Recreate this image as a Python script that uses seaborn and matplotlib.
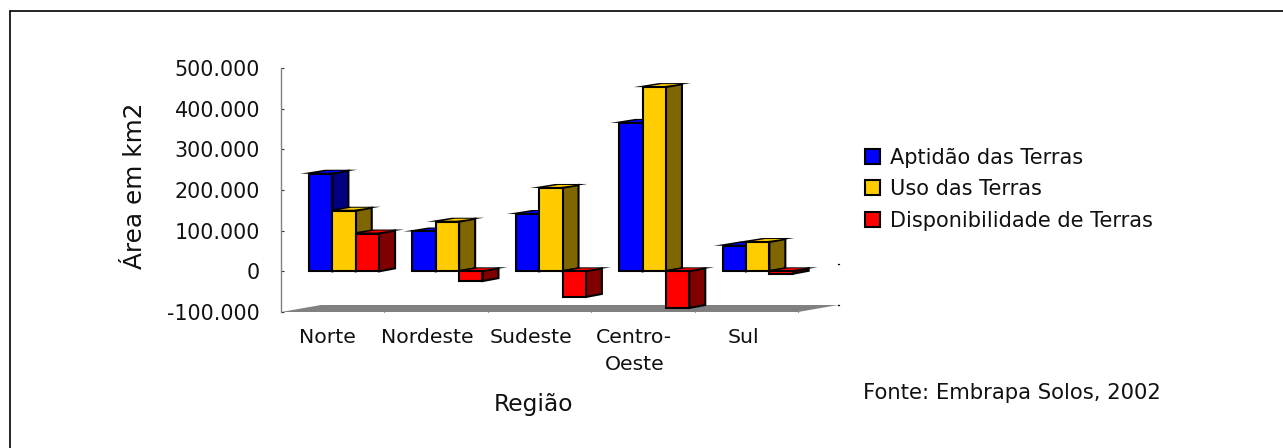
import numpy as np
import pandas as pd
import matplotlib
matplotlib.use('Agg')
import matplotlib.pyplot as plt
import seaborn as sns
from matplotlib.lines import Line2D
from matplotlib.patches import Patch, Polygon
from matplotlib.transforms import ScaledTranslation

regioes = ['Norte', 'Nordeste', 'Sudeste', 'Centro-\nOeste', 'Sul']
series = ['Aptidão das Terras', 'Uso das Terras', 'Disponibilidade de Terras']
aptidao = [240000, 98000, 141000, 365000, 63000]
uso = [149000, 122000, 205000, 453000, 72000]
disponibilidade = [93000, -24000, -63000, -90000, -6000]
y_ticks = [-100000, 0, 100000, 200000, 300000, 400000, 500000]
y_labels = ['-100.000', '0', '100.000', '200.000', '300.000', '400.000', '500.000']
cores = ['#0000ff', '#ffcc00', '#ff0000']
cores_lado = ['#000080', '#806600', '#800000']

W, H = 1283, 448
DX, DY = 16, 3  # profundidade 3D em px
XMIN, XMAX = -0.61, 4.39


def fx(px):
    return px / W


def fy(py):
    return 1 - py / H


df = pd.DataFrame({'regiao': regioes, series[0]: aptidao, series[1]: uso, series[2]: disponibilidade})
df = df.melt(id_vars='regiao', var_name='serie', value_name='area')

sns.set_style('white')
plt.rcParams['font.family'] = ['DejaVu Sans']

fig = plt.figure(figsize=(W / 100, H / 100), dpi=100)
ax = fig.add_axes([fx(281), fy(312), fx(798 - 281), (312 - 68) / H])
sns.barplot(data=df, x='regiao', y='area', hue='serie', order=regioes, hue_order=series,
            palette=cores, width=0.677, dodge=True, legend=False, ax=ax,
            edgecolor='black', linewidth=1.5, saturation=1, zorder=5)

n = len(regioes)
ax.set_yticks(y_ticks)
ax.set_yticklabels(y_labels, fontsize=14.9, color='#111111')
ax.tick_params(axis='y', length=2, width=0.8, pad=15, left=True, direction='in', color='#333333')
ax.set_xticks(range(n))
ax.set_xticklabels(regioes, fontsize=14.7, color='#111111', linespacing=1.55)
ax.set_xticks(XMIN + np.arange(1, n + 1), minor=True)
ax.tick_params(axis='x', which='major', length=0, pad=11.5)
ax.tick_params(axis='x', which='minor', length=2, width=0.8, color='#333333', bottom=True, direction='in')
ax.set_xlim(XMIN, XMAX)
ax.set_ylim(-100000, 500000)
# rotulos ficam deslocados para a esquerda das barras
for t, dx in zip(ax.get_xticklabels(), [-17, -20, -20, -20, -14]):
    t.set_transform(t.get_transform() + ScaledTranslation(dx / 100, 0, fig.dpi_scale_trans))
ax.set_xlabel('')
ax.set_ylabel('')


def extrude(bar, cor, cor_lado, z):
    # face lateral e topo a partir do retangulo da barra, em px
    x0, x1 = bar.get_x(), bar.get_x() + bar.get_width()
    y0, y1 = bar.get_y(), bar.get_y() + bar.get_height()
    y0, y1 = min(y0, y1), max(y0, y1)
    (a, b), (c, d) = ax.transData.transform([(x0, y0), (x1, y1)])
    lado = [(c, b), (c + DX, b + DY), (c + DX, d + DY), (c, d)]
    sombra = [(a - 9, d), (c, d), (c + DX + 9, d + DY + 1), (a + DX, d + DY + 1)]
    topo = [(a + 7, d + 1), (c - 2, d + 1), (c + DX - 3, d + DY), (a + DX + 3, d + DY)]
    ax.add_patch(Polygon(sombra, closed=True, transform=None, facecolor='black', edgecolor='none',
                         zorder=z, clip_on=False))
    ax.add_patch(Polygon(lado, closed=True, transform=None, facecolor=cor_lado, edgecolor='black',
                         linewidth=1.5, zorder=z + 0.01, clip_on=False))
    ax.add_patch(Polygon(topo, closed=True, transform=None, facecolor=cor, edgecolor='none',
                         zorder=z + 0.02, clip_on=False))


for i, bar in enumerate(list(ax.patches)[:3 * n]):
    s = i // n
    bar.set_zorder(10 + bar.get_x())
    extrude(bar, cores[s], cores_lado[s], 9.5 + bar.get_x())

# chao cinza
a0, b0 = ax.transData.transform((XMIN, -100000))
a1, b1 = ax.transData.transform((XMAX, -100000))
ax.add_patch(Polygon([(a0, b0), (a0 + 40, b0 + 7), (a1 + 40, b0 + 7), (a1, b1)], closed=True,
                     transform=None, facecolor='#808080', edgecolor='none', zorder=1, clip_on=False))

# marcas da parede do fundo
for v in y_ticks[:2]:
    xp, yp = ax.transData.transform((XMAX, v))
    ax.add_artist(Line2D([xp + 40, xp + 41], [yp + 7, yp + 7], transform=None, color='black',
                         linewidth=1, clip_on=False))

ax.patch.set_alpha(0)
sns.despine(ax=ax, top=True, right=True, bottom=True)
ax.spines['left'].set_color('#808080')
ax.spines['left'].set_linewidth(1)

fig.text(fx(135), fy(185.5), 'Área em km2', rotation=90, ha='center', va='center', fontsize=17.8, color='#111111')
fig.text(fx(533), fy(405), 'Região', ha='center', va='center', fontsize=16.8, color='#111111')
fig.text(fx(863), fy(393), 'Fonte: Embrapa Solos, 2002', ha='left', va='center', fontsize=15.25, color='#111111')

handles = [Patch(facecolor=c, edgecolor='black', linewidth=1.5) for c in cores]
fig.legend(handles, series, loc='upper left', bbox_to_anchor=(fx(865), fy(147.5)), frameon=False, fontsize=15,
           handlelength=0.72, handleheight=0.72, handletextpad=0.5, labelspacing=0.56, borderpad=0, borderaxespad=0,
           labelcolor='#111111')

# moldura da figura
fig.add_artist(Line2D([fx(10), fx(10)], [fy(11), 0], color='black', linewidth=1.2))
fig.add_artist(Line2D([fx(10), 1], [fy(11), fy(11)], color='black', linewidth=1.2))

fig.savefig('out.png', dpi=100)
